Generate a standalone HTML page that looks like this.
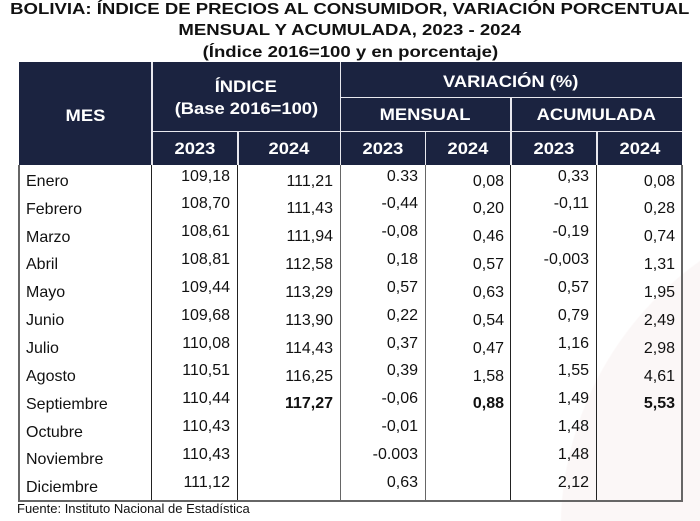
<!DOCTYPE html>
<html><head><meta charset="utf-8">
<style>
html,body{margin:0;padding:0;width:700px;height:521px;overflow:hidden;}
body{background:#fff;font-family:"Liberation Sans",Arial,sans-serif;color:#111;}
#w{position:relative;width:700px;height:521px;overflow:hidden;background:radial-gradient(circle 330px at 890px 530px,#fbf7f7 99.6%,#ffffff 100%);}
.t{position:absolute;left:0;width:700px;text-align:center;font-weight:bold;font-size:16px;line-height:20px;height:20px;color:#111;white-space:nowrap;}
.t span{display:inline-block;transform:scaleX(1.16);transform-origin:center;}
.hbg{position:absolute;left:19px;top:62px;width:663px;height:103px;background:#1b2340;}
.h{position:absolute;text-align:center;color:#fff;font-weight:bold;font-size:17px;line-height:22px;height:22px;white-space:nowrap;}
.h span{display:inline-block;transform:scaleX(1.08);}
.wl{position:absolute;background:#e8e8ee;}
.bl{position:absolute;background:#222;}
.gl{position:absolute;background:#666;}
.r{position:absolute;left:0;width:700px;height:28px;font-size:16px;}
.r div{position:absolute;line-height:20px;height:20px;white-space:nowrap;}
.m{left:26px;top:6.9px;}
.c1{right:470px;top:1.5px;}
.c2{right:367px;top:6.6px;}
.c3{right:282px;top:1.5px;}
.c4{right:196px;top:6.6px;}
.c5{right:111px;top:1.5px;}
.c6{right:25px;top:6.6px;}
.b{font-weight:bold;}
.f{position:absolute;left:17px;top:501px;font-size:13px;line-height:16px;height:16px;color:#111;}
</style></head><body>
<div id="w">

<div class="t" style="top:0px"><span>BOLIVIA: ÍNDICE DE PRECIOS AL CONSUMIDOR, VARIACIÓN PORCENTUAL</span></div>
<div class="t" style="top:20.7px"><span>MENSUAL Y ACUMULADA, 2023 - 2024</span></div>
<div class="t" style="top:42.5px"><span>(Índice 2016=100 y en porcentaje)</span></div>

<div class="hbg"></div>
<div class="wl" style="left:151px;top:62px;width:1.5px;height:103px"></div>
<div class="wl" style="left:339.5px;top:62px;width:1.5px;height:103px"></div>
<div class="wl" style="left:237px;top:131px;width:1.5px;height:34px"></div>
<div class="wl" style="left:424.5px;top:131px;width:1.5px;height:34px"></div>
<div class="wl" style="left:510px;top:97px;width:1.5px;height:68px"></div>
<div class="wl" style="left:596px;top:131px;width:1.5px;height:34px"></div>
<div class="wl" style="left:340px;top:96.5px;width:342px;height:1.5px"></div>
<div class="wl" style="left:152px;top:130.5px;width:530px;height:1.5px"></div>

<div class="h" style="left:19px;width:133px;top:104.7px"><span>MES</span></div>
<div class="h" style="left:152px;width:188px;top:76.4px"><span>ÍNDICE</span></div>
<div class="h" style="left:152px;width:188px;top:98.2px"><span>(Base 2016=100)</span></div>
<div class="h" style="left:340px;width:342px;top:70.9px"><span>VARIACIÓN (%)</span></div>
<div class="h" style="left:340px;width:171px;top:104.2px"><span>MENSUAL</span></div>
<div class="h" style="left:511px;width:171px;top:104.2px"><span>ACUMULADA</span></div>
<div class="h" style="left:152px;width:86px;top:138.2px"><span>2023</span></div>
<div class="h" style="left:238px;width:102px;top:138.2px"><span>2024</span></div>
<div class="h" style="left:340px;width:85px;top:138.2px"><span>2023</span></div>
<div class="h" style="left:425px;width:86px;top:138.2px"><span>2024</span></div>
<div class="h" style="left:511px;width:86px;top:138.2px"><span>2023</span></div>
<div class="h" style="left:597px;width:85px;top:138.2px"><span>2024</span></div>

<div class="gl" style="left:18px;top:165px;width:2px;height:336px"></div>
<div class="bl" style="left:151px;top:165px;width:1px;height:336px"></div>
<div class="bl" style="left:237px;top:165px;width:1px;height:336px"></div>
<div class="gl" style="left:339.5px;top:165px;width:1px;height:336px"></div>
<div class="gl" style="left:424.5px;top:165px;width:1px;height:336px"></div>
<div class="bl" style="left:510px;top:165px;width:1px;height:336px"></div>
<div class="bl" style="left:596px;top:165px;width:1px;height:336px"></div>
<div class="gl" style="left:681px;top:165px;width:1.5px;height:336px"></div>
<div class="gl" style="left:18px;top:499.5px;width:665px;height:2px"></div>

<div class="r" style="top:165px"><div class="m">Enero</div><div class="c1">109,18</div><div class="c2">111,21</div><div class="c3">0.33</div><div class="c4">0,08</div><div class="c5">0,33</div><div class="c6">0,08</div></div>
<div class="r" style="top:192.85px"><div class="m">Febrero</div><div class="c1">108,70</div><div class="c2">111,43</div><div class="c3">-0,44</div><div class="c4">0,20</div><div class="c5">-0,11</div><div class="c6">0,28</div></div>
<div class="r" style="top:220.7px"><div class="m">Marzo</div><div class="c1">108,61</div><div class="c2">111,94</div><div class="c3">-0,08</div><div class="c4">0,46</div><div class="c5">-0,19</div><div class="c6">0,74</div></div>
<div class="r" style="top:248.55px"><div class="m">Abril</div><div class="c1">108,81</div><div class="c2">112,58</div><div class="c3">0,18</div><div class="c4">0,57</div><div class="c5">-0,003</div><div class="c6">1,31</div></div>
<div class="r" style="top:276.4px"><div class="m">Mayo</div><div class="c1">109,44</div><div class="c2">113,29</div><div class="c3">0,57</div><div class="c4">0,63</div><div class="c5">0,57</div><div class="c6">1,95</div></div>
<div class="r" style="top:304.25px"><div class="m">Junio</div><div class="c1">109,68</div><div class="c2">113,90</div><div class="c3">0,22</div><div class="c4">0,54</div><div class="c5">0,79</div><div class="c6">2,49</div></div>
<div class="r" style="top:332.1px"><div class="m">Julio</div><div class="c1">110,08</div><div class="c2">114,43</div><div class="c3">0,37</div><div class="c4">0,47</div><div class="c5">1,16</div><div class="c6">2,98</div></div>
<div class="r" style="top:359.95px"><div class="m">Agosto</div><div class="c1">110,51</div><div class="c2">116,25</div><div class="c3">0,39</div><div class="c4">1,58</div><div class="c5">1,55</div><div class="c6">4,61</div></div>
<div class="r" style="top:387.8px"><div class="m">Septiembre</div><div class="c1">110,44</div><div class="c2 b">117,27</div><div class="c3">-0,06</div><div class="c4 b">0,88</div><div class="c5">1,49</div><div class="c6 b">5,53</div></div>
<div class="r" style="top:415.65px"><div class="m">Octubre</div><div class="c1">110,43</div><div class="c3">-0,01</div><div class="c5">1,48</div></div>
<div class="r" style="top:443.5px"><div class="m">Noviembre</div><div class="c1">110,43</div><div class="c3">-0.003</div><div class="c5">1,48</div></div>
<div class="r" style="top:471.35px"><div class="m">Diciembre</div><div class="c1">111,12</div><div class="c3">0,63</div><div class="c5">2,12</div></div>

<div class="f">Fuente: Instituto Nacional de Estadística</div>
</div>
</body></html>
